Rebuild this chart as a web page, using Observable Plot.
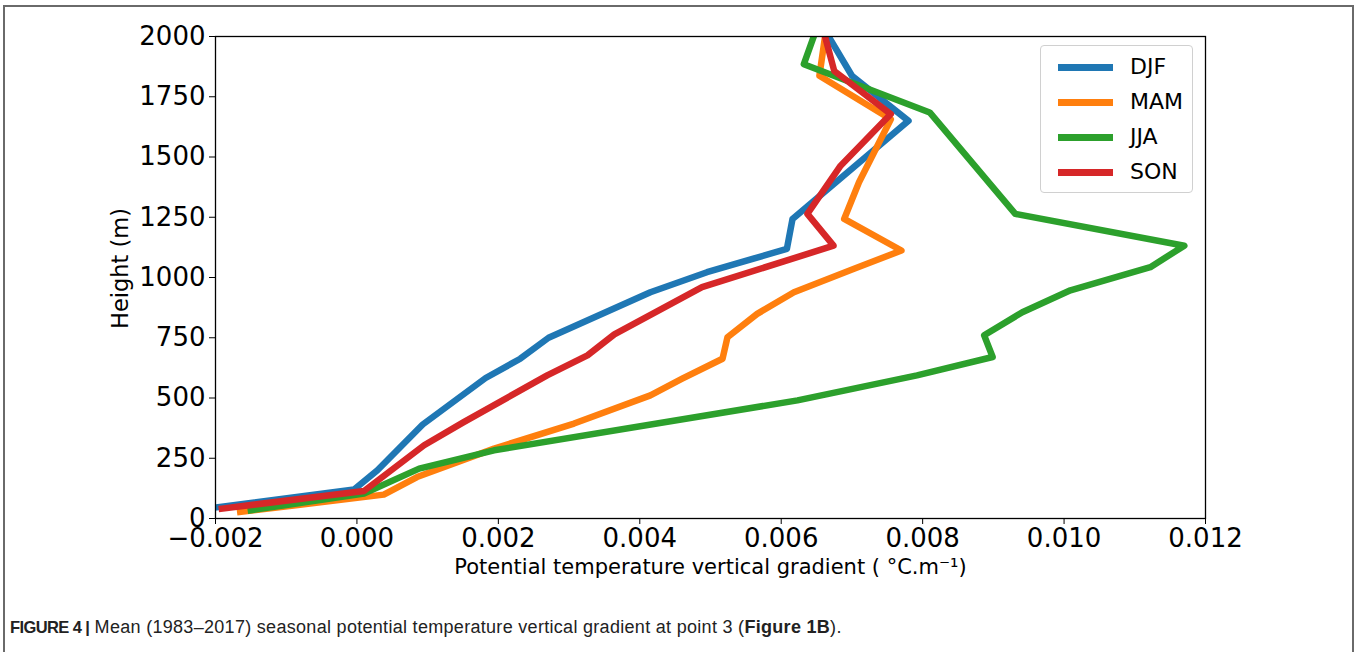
<!DOCTYPE html>
<html>
<head>
<meta charset="utf-8">
<script src="https://cdn.jsdelivr.net/npm/d3@7"></script>
<script src="https://cdn.jsdelivr.net/npm/@observablehq/plot@0.6"></script>
<style>
  body { margin: 0; background: #fff; width: 1360px; height: 652px; overflow: hidden; position: relative; font-family: "DejaVu Sans", sans-serif; }
  #frame { position: absolute; left: 3px; top: 5px; width: 1351px; height: 700px; border: 2px solid #6a6a6a; box-sizing: border-box; }
  #chart { position: absolute; left: 0; top: 0; }
  #legend { position: absolute; left: 1040px; top: 45px; width: 153px; height: 148px; box-sizing: border-box; border: 1px solid #d0d0d0; border-radius: 4px; background: rgba(255,255,255,0.85); }
  .entry { position: absolute; left: 0; height: 30px; width: 150px; }
  .swatch { position: absolute; left: 17px; top: 12px; width: 55px; height: 7px; }
  .lab { position: absolute; left: 89px; top: 0; font-size: 22px; line-height: 30px; color: #000; }
  #caption { position: absolute; left: 10px; top: 617px; font-family: "Liberation Sans", Arial, sans-serif; font-size: 18px; letter-spacing: 0.3px; color: #222; white-space: nowrap; }
  #caption .fig { font-size: 16.5px; letter-spacing: -0.6px; }
</style>
</head>
<body>
<div id="frame"></div>
<div id="chart"></div>
<div id="legend"></div>
<div id="caption"><b class="fig">FIGURE 4 |</b> Mean (1983–2017) seasonal potential temperature vertical gradient at point 3 (<b>Figure 1B</b>).</div>
<script>
// Seasons and colours
const seasons = ["DJF", "MAM", "JJA", "SON"];
const colors = ["#1f77b4", "#ff7f0e", "#2ca02c", "#d62728"];

// Heights (m) and gradients (°C/m) per season
const djfHeight   = [46, 120, 200, 390, 583, 663, 750, 939, 1022, 1119, 1243, 1650, 1837, 2000];
const djfGradient = [-0.00199, -0.00004, 0.00029, 0.00093, 0.00182, 0.00231, 0.00271, 0.00415, 0.00495, 0.00608, 0.00616, 0.00780, 0.00700, 0.00667];

const mamHeight   = [27, 99, 172, 290, 394, 511, 580, 663, 752, 849, 939, 1036, 1112, 1243, 1395, 1657, 1837, 2000];
const mamGradient = [-0.00165, 0.00038, 0.00085, 0.00194, 0.00307, 0.00415, 0.00460, 0.00517, 0.00524, 0.00566, 0.00618, 0.00703, 0.00770, 0.00689, 0.00710, 0.00755, 0.00654, 0.00662];

const jjaHeight   = [34, 104, 207, 283, 490, 594, 670, 760, 856, 947, 1043, 1132, 1264, 1685, 1885, 2000];
const jjaGradient = [-0.00150, 0.00010, 0.00088, 0.00194, 0.00623, 0.00792, 0.00899, 0.00887, 0.00941, 0.01009, 0.01122, 0.01170, 0.00931, 0.00810, 0.00632, 0.00646];

const sonHeight   = [41, 114, 304, 400, 594, 677, 764, 960, 1132, 1264, 1464, 1678, 1857, 2000];
const sonGradient = [-0.00191, 0.00010, 0.00095, 0.00151, 0.00269, 0.00326, 0.00364, 0.00488, 0.00674, 0.00637, 0.00684, 0.00755, 0.00675, 0.00662];

// Axis ticks
const xTicks = [-0.002, 0, 0.002, 0.004, 0.006, 0.008, 0.010, 0.012];
const yTicks = [0, 250, 500, 750, 1000, 1250, 1500, 1750, 2000];
const xLabel = "Potential temperature vertical gradient ( °C.m⁻¹)";
const yLabel = "Height (m)";

const series = [
  [djfHeight, djfGradient],
  [mamHeight, mamGradient],
  [jjaHeight, jjaGradient],
  [sonHeight, sonGradient]
];
const rows = [];
series.forEach(([hs, gs], i) => {
  hs.forEach((h, j) => rows.push({season: seasons[i], h, g: gs[j]}));
});

const chart = Plot.plot({
  width: 1360,
  height: 600,
  marginLeft: 215,
  marginRight: 155,
  marginTop: 36,
  marginBottom: 82,
  style: { fontFamily: "DejaVu Sans, sans-serif", background: "transparent", color: "#000" },
  x: { domain: [-0.002, 0.012], label: null },
  y: { domain: [0, 2000], label: null },
  color: { domain: seasons, range: colors },
  marks: [
    Plot.line(rows, { x: "g", y: "h", z: "season", stroke: "season", strokeWidth: 6.5, strokeLinejoin: "round", strokeLinecap: "square", clip: true }),
    Plot.frame({ stroke: "#000", strokeWidth: 1.3 }),
    Plot.axisX({ ticks: xTicks, tickFormat: d3.format(".3f"), tickSize: 6, tickPadding: 4, fontSize: 26, label: null }),
    Plot.axisY({ ticks: yTicks, tickFormat: d3.format("d"), tickSize: 6, tickPadding: 4, fontSize: 26, label: null }),
    Plot.text([xLabel], { frameAnchor: "bottom", dy: 55, fontSize: 21, fill: "#000" }),
    Plot.text([yLabel], { frameAnchor: "left", textAnchor: "middle", dx: -95, dy: -9, rotate: -90, fontSize: 22.5, fill: "#000" })
  ]
});
document.getElementById("chart").appendChild(chart);

// Legend
const legend = document.getElementById("legend");
seasons.forEach((s, i) => {
  const e = document.createElement("div");
  e.className = "entry";
  e.style.top = (6 + i * 35) + "px";
  const sw = document.createElement("div");
  sw.className = "swatch";
  sw.style.background = colors[i];
  const lb = document.createElement("div");
  lb.className = "lab";
  lb.textContent = s;
  e.appendChild(sw); e.appendChild(lb);
  legend.appendChild(e);
});
</script>
</body>
</html>
